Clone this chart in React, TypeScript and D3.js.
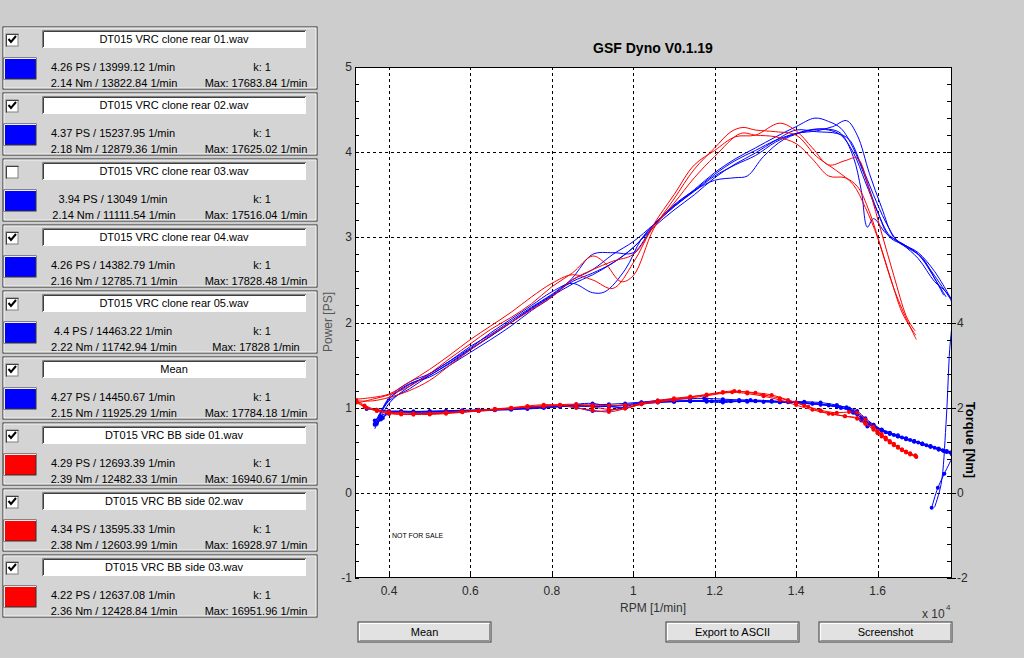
import * as d3 from 'd3';

// ---- run list (left panel) ----
const runNames = [
  'DT015 VRC clone rear 01.wav',
  'DT015 VRC clone rear 02.wav',
  'DT015 VRC clone rear 03.wav',
  'DT015 VRC clone rear 04.wav',
  'DT015 VRC clone rear 05.wav',
  'Mean',
  'DT015 VRC BB side 01.wav',
  'DT015 VRC BB side 02.wav',
  'DT015 VRC BB side 03.wav',
];
const runColors = ['#0000ff', '#0000ff', '#0000ff', '#0000ff', '#0000ff', '#0000ff', '#ff0000', '#ff0000', '#ff0000'];
const runChecked = [true, true, false, true, true, true, true, true, true];
const peakPower = [4.26, 4.37, 3.94, 4.26, 4.4, 4.27, 4.29, 4.34, 4.22];
const peakPowerRpm = [13999.12, 15237.95, 13049, 14382.79, 14463.22, 14450.67, 12693.39, 13595.33, 12637.08];
const peakTorque = [2.14, 2.18, 2.14, 2.16, 2.22, 2.15, 2.39, 2.38, 2.36];
const peakTorqueRpm = [13822.84, 12879.36, 11111.54, 12785.71, 11742.94, 11925.29, 12482.33, 12603.99, 12428.84];
const kFactor = [1, 1, 1, 1, 1, 1, 1, 1, 1];
const maxRpm = [17683.84, 17625.02, 17516.04, 17828.48, 17828, 17784.18, 16940.67, 16928.97, 16951.96];

// ---- power curves [rpm, PS] ----
const powerRear01 = [[3650,0.80],[4000,1.08],[4500,1.22],[5000,1.38],[5500,1.52],[6000,1.68],[6500,1.84],[7000,2.00],[7500,2.16],[8000,2.31],[8500,2.45],[9000,2.56],[9500,2.70],[10000,2.88],[10500,3.12],[11000,3.32],[11500,3.50],[12000,3.70],[12500,3.86],[13000,3.99],[13500,4.14],[14000,4.26],[14500,4.24],[15000,4.22],[15300,4.15],[15600,3.85],[15900,3.50],[16200,3.18],[16500,2.95],[16800,2.86],[17100,2.76],[17400,2.52],[17684,2.30]];
const powerRear02 = [[3700,0.78],[4000,1.05],[4500,1.25],[5000,1.40],[5500,1.55],[6000,1.72],[6500,1.86],[7000,2.02],[7500,2.18],[8000,2.33],[8500,2.50],[9000,2.62],[9500,2.80],[10000,2.95],[10500,3.15],[11000,3.36],[11500,3.55],[12000,3.74],[12500,3.90],[13000,4.02],[13500,4.14],[14000,4.22],[14500,4.25],[14900,4.30],[15238,4.37],[15500,4.20],[15800,3.75],[16100,3.35],[16400,3.00],[16700,2.90],[17000,2.80],[17300,2.60],[17625,2.32]];
const powerRear04 = [[3650,0.75],[4000,1.10],[4500,1.28],[5000,1.36],[5500,1.50],[6000,1.65],[6500,1.80],[7000,1.96],[7500,2.14],[8000,2.30],[8500,2.52],[9000,2.80],[9500,2.82],[10000,2.82],[10500,3.14],[11000,3.38],[11500,3.55],[12000,3.67],[12500,3.70],[12800,3.72],[13200,3.95],[13700,4.15],[14383,4.26],[14800,4.27],[15100,4.22],[15400,3.95],[15600,3.55],[15750,3.12],[15900,3.22],[16200,3.05],[16600,2.92],[17000,2.75],[17400,2.48],[17700,2.35],[17828,2.22],[17760,1.60],[17680,0.80],[17560,0.10],[17400,-0.17]];
const powerRear05 = [[3700,0.82],[4000,1.12],[4500,1.30],[5000,1.40],[5500,1.55],[6000,1.70],[6500,1.88],[7000,2.04],[7500,2.20],[8000,2.36],[8500,2.46],[9000,2.35],[9300,2.36],[9800,2.62],[10200,2.98],[10600,3.20],[11000,3.37],[11500,3.56],[12000,3.76],[12500,3.92],[13000,4.05],[13500,4.18],[14000,4.30],[14463,4.40],[14800,4.36],[15100,4.28],[15400,4.05],[15700,3.70],[16000,3.30],[16300,3.00],[16700,2.90],[17000,2.82],[17400,2.60],[17828,2.26]];
const powerMean = [[3650,0.82],[4000,1.10],[4500,1.27],[5000,1.38],[5500,1.53],[6000,1.69],[6500,1.84],[7000,2.00],[7500,2.17],[8000,2.32],[8500,2.48],[9000,2.58],[9500,2.70],[10000,2.88],[10500,3.14],[11000,3.36],[11500,3.54],[12000,3.72],[12500,3.85],[13000,3.96],[13500,4.12],[14000,4.22],[14451,4.27],[14800,4.26],[15100,4.20],[15400,4.00],[15700,3.65],[16000,3.30],[16300,3.02],[16700,2.90],[17000,2.80],[17400,2.55],[17784,2.28]];
const powerBB01 = [[3200,1.05],[3600,1.10],[4000,1.15],[4500,1.25],[5000,1.40],[5500,1.58],[6000,1.75],[6500,1.92],[7000,2.06],[7500,2.22],[8000,2.42],[8500,2.58],[9000,2.78],[9300,2.70],[9700,2.48],[10000,2.55],[10500,3.10],[11000,3.45],[11500,3.80],[12000,4.05],[12400,4.24],[12693,4.29],[13000,4.26],[13500,4.24],[14000,4.20],[14500,3.95],[15000,3.78],[15400,3.62],[15700,3.35],[16000,3.00],[16300,2.55],[16600,2.12],[16800,1.95],[16941,1.85]];
const powerBB02 = [[3200,1.10],[3600,1.12],[4000,1.16],[4500,1.30],[5000,1.45],[5500,1.62],[6000,1.80],[6500,1.96],[7000,2.12],[7500,2.30],[8000,2.46],[8500,2.56],[9000,2.50],[9500,2.40],[10000,2.70],[10500,3.15],[11000,3.50],[11500,3.85],[12000,4.02],[12500,4.18],[13000,4.20],[13595,4.34],[14000,4.25],[14400,4.05],[14800,3.85],[15200,3.90],[15500,3.93],[15800,3.55],[16100,3.05],[16400,2.55],[16700,2.08],[16850,1.95],[16929,1.90]];
const powerBB03 = [[3200,1.08],[3600,1.08],[4000,1.12],[4500,1.20],[5000,1.32],[5500,1.50],[6000,1.68],[6500,1.85],[7000,2.00],[7500,2.15],[8000,2.30],[8500,2.50],[9000,2.62],[9500,2.72],[10000,2.80],[10500,3.12],[11000,3.40],[11500,3.70],[12000,3.95],[12637,4.22],[13000,4.20],[13500,4.18],[14000,4.10],[14400,3.92],[14800,3.72],[15200,3.70],[15500,3.60],[15800,3.30],[16100,2.85],[16400,2.40],[16700,2.05],[16850,1.90],[16952,1.80]];

// ---- torque curves [rpm, Nm] ----
const torqueRear01 = [[3650,1.62],[3800,1.75],[4000,1.88],[4300,1.90],[4600,1.89],[5000,1.90],[5400,1.91],[5800,1.92],[6200,1.93],[6600,1.95],[7000,1.97],[7400,1.99],[7800,2.01],[8200,2.03],[8600,2.04],[9000,2.02],[9400,2.03],[9800,2.07],[10200,2.11],[10600,2.13],[11000,2.14],[11400,2.15],[11800,2.16],[12200,2.15],[12600,2.15],[13000,2.15],[13400,2.14],[13822,2.14],[14200,2.12],[14600,2.08],[15000,2.02],[15300,1.96],[15500,1.85],[15700,1.68],[15900,1.55],[16100,1.46],[16300,1.38],[16500,1.32],[16700,1.26],[16900,1.20],[17100,1.14],[17300,1.08],[17500,1.02],[17684,0.97]];
const torqueRear02 = [[3450,1.97],[3700,1.95],[4000,1.92],[4300,1.90],[4600,1.91],[5000,1.92],[5400,1.93],[5800,1.94],[6200,1.95],[6600,1.96],[7000,1.98],[7400,2.00],[7800,2.02],[8200,2.03],[8600,2.05],[9000,2.06],[9400,2.08],[9800,2.10],[10200,2.13],[10600,2.15],[11000,2.16],[11400,2.17],[11800,2.17],[12200,2.17],[12879,2.18],[13400,2.16],[13800,2.13],[14200,2.10],[14600,2.07],[15000,2.04],[15238,2.01],[15500,1.92],[15700,1.75],[15900,1.60],[16100,1.47],[16300,1.40],[16500,1.33],[16700,1.27],[16900,1.21],[17100,1.15],[17300,1.09],[17500,1.02],[17625,0.98]];
const torqueRear04 = [[3650,1.60],[3800,1.72],[4000,1.86],[4300,1.88],[4600,1.87],[5000,1.86],[5400,1.88],[5800,1.90],[6200,1.92],[6600,1.94],[7000,1.95],[7400,1.97],[7800,1.99],[8200,2.02],[8600,2.08],[9000,2.10],[9400,2.03],[9800,2.00],[10200,2.08],[10600,2.12],[11000,2.14],[11400,2.15],[11800,2.14],[12200,2.12],[12786,2.16],[13200,2.14],[13600,2.13],[14000,2.12],[14400,2.10],[14800,2.06],[15100,2.00],[15400,1.88],[15600,1.70],[15750,1.56],[15900,1.60],[16100,1.48],[16300,1.40],[16500,1.33],[16700,1.27],[16900,1.21],[17100,1.15],[17300,1.09],[17500,1.03],[17700,0.96],[17828,0.90],[17640,0.45],[17480,0.12],[17330,-0.35]];
const torqueRear05 = [[3700,1.62],[3850,1.76],[4000,1.90],[4300,1.92],[4600,1.91],[5000,1.90],[5400,1.91],[5800,1.92],[6200,1.94],[6600,1.96],[7000,1.98],[7400,2.01],[7800,2.03],[8200,2.04],[8600,2.00],[9000,1.92],[9400,1.93],[9800,2.02],[10200,2.12],[10600,2.17],[11000,2.20],[11400,2.21],[11743,2.22],[12200,2.20],[12600,2.18],[13000,2.16],[13400,2.15],[13800,2.15],[14200,2.14],[14600,2.12],[15000,2.06],[15300,1.98],[15500,1.88],[15700,1.72],[15900,1.58],[16100,1.49],[16300,1.41],[16500,1.35],[16700,1.28],[16900,1.22],[17100,1.16],[17300,1.10],[17500,1.04],[17700,0.98],[17828,0.92]];
const torqueMean = [[3650,1.70],[3800,1.80],[4000,1.89],[4300,1.90],[4600,1.90],[5000,1.90],[5400,1.91],[5800,1.92],[6200,1.94],[6600,1.95],[7000,1.97],[7400,1.99],[7800,2.01],[8200,2.03],[8600,2.04],[9000,2.03],[9400,2.03],[9800,2.05],[10200,2.11],[10600,2.14],[11000,2.15],[11400,2.15],[11925,2.15],[12400,2.15],[12800,2.14],[13200,2.14],[13600,2.13],[14000,2.12],[14400,2.09],[14800,2.05],[15100,2.00],[15400,1.90],[15600,1.76],[15800,1.62],[16000,1.50],[16200,1.42],[16400,1.36],[16600,1.30],[16800,1.24],[17000,1.18],[17200,1.12],[17400,1.06],[17600,1.00],[17784,0.95]];
const torqueBB01 = [[3200,2.18],[3400,2.05],[3700,1.95],[4000,1.90],[4300,1.88],[4600,1.87],[5000,1.87],[5400,1.89],[5800,1.91],[6200,1.93],[6600,1.96],[7000,1.99],[7400,2.02],[7800,2.05],[8200,2.07],[8600,2.08],[9000,2.02],[9400,1.96],[9800,1.98],[10200,2.08],[10600,2.15],[11000,2.20],[11400,2.25],[11800,2.31],[12200,2.37],[12482,2.39],[12800,2.36],[13200,2.30],[13600,2.22],[14000,2.12],[14300,2.02],[14600,1.92],[14900,1.85],[15200,1.80],[15500,1.74],[15700,1.62],[15900,1.50],[16000,1.42],[16100,1.35],[16200,1.28],[16300,1.20],[16400,1.14],[16500,1.08],[16600,1.02],[16700,0.96],[16800,0.92],[16940,0.86]];
const torqueBB02 = [[3200,2.15],[3450,2.00],[3700,1.92],[4000,1.86],[4300,1.84],[4600,1.84],[5000,1.86],[5400,1.88],[5800,1.91],[6200,1.94],[6600,1.97],[7000,2.00],[7400,2.04],[7800,2.07],[8200,2.06],[8600,2.00],[9000,1.94],[9400,1.90],[9800,1.98],[10200,2.10],[10600,2.17],[11000,2.22],[11400,2.26],[11800,2.30],[12200,2.35],[12604,2.38],[13000,2.35],[13400,2.30],[13800,2.18],[14200,2.05],[14600,1.94],[15000,1.88],[15300,1.90],[15500,1.88],[15700,1.72],[15900,1.55],[16000,1.46],[16100,1.38],[16200,1.30],[16300,1.22],[16400,1.15],[16500,1.08],[16600,1.02],[16700,0.97],[16800,0.93],[16929,0.88]];
const torqueBB03 = [[3200,2.12],[3400,2.02],[3700,1.93],[4000,1.88],[4300,1.85],[4600,1.84],[5000,1.84],[5400,1.86],[5800,1.89],[6200,1.92],[6600,1.95],[7000,1.98],[7400,2.01],[7800,2.03],[8200,2.05],[8600,2.07],[9000,2.06],[9400,2.05],[9800,2.06],[10200,2.09],[10600,2.13],[11000,2.18],[11400,2.23],[11800,2.28],[12429,2.36],[12800,2.33],[13200,2.27],[13600,2.18],[14000,2.06],[14400,1.95],[14800,1.86],[15200,1.80],[15500,1.76],[15700,1.63],[15900,1.48],[16000,1.40],[16100,1.32],[16200,1.25],[16300,1.18],[16400,1.12],[16500,1.06],[16600,1.00],[16700,0.95],[16800,0.90],[16952,0.84]];

const plotted = [
  { color: '#0000ff', power: powerRear01, torque: torqueRear01 },
  { color: '#0000ff', power: powerRear02, torque: torqueRear02 },
  { color: '#0000ff', power: powerRear04, torque: torqueRear04 },
  { color: '#0000ff', power: powerRear05, torque: torqueRear05 },
  { color: '#0000ff', power: powerMean, torque: torqueMean },
  { color: '#ff0000', power: powerBB01, torque: torqueBB01 },
  { color: '#ff0000', power: powerBB02, torque: torqueBB02 },
  { color: '#ff0000', power: powerBB03, torque: torqueBB03 },
];

const rightTickLabels = [-2, 0, 2, 4];
const buttonLabels = ['Mean', 'Export to ASCII', 'Screenshot'];

const FONT = '"Liberation Sans", Arial, sans-serif';
const BG = '#cdcdcd';

function RunPanel({ i }: { i: number }) {
  const y0 = 27 + i * 66;
  const fmt = (v: number) => String(v);
  return (
    <g transform={`translate(3,${y0})`} fontFamily={FONT} fontSize={11}>
      <rect x={0} y={0} width={314} height={62} fill="#d4d4d4" stroke="#2a2a2a" />
      <rect x={1} y={1} width={312} height={60} fill="none" stroke="#f4f4f4" />
      {/* checkbox */}
      <rect x={3} y={7} width={12} height={12} fill="#fff" stroke="#808080" />
      <path d="M3.5,19.5 V7.5 H15.5" fill="none" stroke="#404040" />
      {runChecked[i] && (
        <path d="M5.5,12 L8,15 L13,9" fill="none" stroke="#000" strokeWidth={2} />
      )}
      {/* name field */}
      <rect x={39} y={3} width={264} height={18} fill="#fff" />
      <path d="M39.5,21 V3.5 H303" fill="none" stroke="#808080" />
      <path d="M40.5,20 V4.5 H302" fill="none" stroke="#404040" />
      <text x={171} y={16} textAnchor="middle" fill="#000">{runNames[i]}</text>
      {/* colour swatch */}
      <rect x={1} y={31} width={32} height={21} fill={runColors[i]} stroke="#303030" />
      <path d="M1.5,52 V31.5 H33" fill="none" stroke="#f0f0f0" />
      <text x={110} y={44} textAnchor="middle" fill="#000">
        {`${fmt(peakPower[i])} PS / ${fmt(peakPowerRpm[i])} 1/min`}
      </text>
      <text x={111} y={60} textAnchor="middle" fill="#000">
        {`${fmt(peakTorque[i])} Nm / ${fmt(peakTorqueRpm[i])} 1/min`}
      </text>
      <text x={259} y={44} textAnchor="middle" fill="#000">{`k: ${kFactor[i]}`}</text>
      <text x={253} y={60} textAnchor="middle" fill="#000">{`Max: ${fmt(maxRpm[i])} 1/min`}</text>
    </g>
  );
}

function Button({ x0, label }: { x0: number; label: string }) {
  return (
    <g fontFamily={FONT} fontSize={11}>
      <rect x={x0} y={622} width={133} height={20} fill="#e2e2e2" stroke="#404040" />
      <path d={`M${x0 + 1.5},${640.5} V${623.5} H${x0 + 132}`} fill="none" stroke="#fff" />
      <path d={`M${x0 + 1.5},${640.5} H${x0 + 131.5} V${623.5}`} fill="none" stroke="#909090" />
      <text x={x0 + 66.5} y={636} textAnchor="middle" fill="#000">{label}</text>
    </g>
  );
}

export default function App() {
  const left = 355, right = 952, top = 67, bottom = 578;
  const x = d3.scaleLinear().domain([3165, 17828.48]).range([left, right]);
  const yP = d3.scaleLinear().domain([-1, 5]).range([bottom, top]);
  const yT = d3.scaleLinear().domain([-2, 10]).range([bottom, top]);

  const lineP = d3.line<number[]>()
    .x(d => x(d[0]))
    .y(d => yP(d[1]))
    .curve(d3.curveCatmullRom.alpha(0.5));
  const lineT = d3.line<number[]>()
    .x(d => x(d[0]))
    .y(d => yT(d[1]))
    .curve(d3.curveCatmullRom.alpha(0.5));

  const xTicks = x.ticks(7);
  const yMajor = yP.ticks(6);
  const yMinor = d3.range(-1, 5.001, 0.2);
  const tMinor = d3.range(-2, 10.001, 0.4);

  return (
    <svg width={1024} height={658} style={{ position: 'absolute', left: 0, top: 0 }}>
      <rect width={1024} height={658} fill={BG} />

      {runNames.map((_, i) => <RunPanel key={i} i={i} />)}

      <defs>
        <clipPath id="plotClip">
          <rect x={left} y={top} width={right - left} height={bottom - top} />
        </clipPath>
      </defs>

      <rect x={left} y={top} width={right - left} height={bottom - top} fill="#fff" />

      {/* grid */}
      <g stroke="#000" strokeWidth={1} strokeDasharray="3,3">
        {xTicks.map(t => (
          <line key={'gx' + t} x1={Math.round(x(t)) + 0.5} x2={Math.round(x(t)) + 0.5} y1={top} y2={bottom} />
        ))}
        {yMajor.filter(t => t > -1 && t < 5).map(t => (
          <line key={'gy' + t} x1={left} x2={right} y1={Math.round(yP(t)) + 0.5} y2={Math.round(yP(t)) + 0.5} />
        ))}
      </g>

      {/* curves */}
      <g clipPath="url(#plotClip)" fill="none" strokeWidth={1}>
        {plotted.map((s, i) => (
          <g key={i}>
            <path d={lineP(s.power) || ''} stroke={s.color} />
            <path d={lineT(s.torque) || ''} stroke={s.color} />
            {s.torque.map((d, j) => (
              <circle key={j} cx={x(d[0])} cy={yT(d[1])} r={2} fill={s.color} stroke="none" />
            ))}
          </g>
        ))}
      </g>

      <text x={392} y={538} fontFamily={FONT} fontSize={7} fill="#000">NOT FOR SALE</text>

      {/* frame */}
      <rect x={left + 0.5} y={top + 0.5} width={right - left - 1} height={bottom - top - 1} fill="none" stroke="#000" />

      {/* axes ticks */}
      <g stroke="#000">
        {yMinor.map((t, i) => (
          <line key={'ly' + i} x1={left} x2={left + 4} y1={Math.round(yP(t)) + 0.5} y2={Math.round(yP(t)) + 0.5} />
        ))}
        {tMinor.map((t, i) => (
          <line key={'ry' + i} x1={right - 5} x2={right} y1={Math.round(yT(t)) + 0.5} y2={Math.round(yT(t)) + 0.5} />
        ))}
        {rightTickLabels.map(t => (
          <line key={'ro' + t} x1={right} x2={right + 4} y1={Math.round(yT(t)) + 0.5} y2={Math.round(yT(t)) + 0.5} />
        ))}
        {xTicks.map(t => (
          <line key={'bx' + t} x1={Math.round(x(t)) + 0.5} x2={Math.round(x(t)) + 0.5} y1={bottom} y2={bottom - 4} />
        ))}
      </g>
      <g fontFamily={FONT} fontSize={12} fill="#2a2a2a">
        {yMajor.map(t => (
          <text key={'lyl' + t} x={left - 3} y={yP(t) + 4} textAnchor="end">{String(t)}</text>
        ))}
        {rightTickLabels.map(t => (
          <text key={'ryl' + t} x={right + 5} y={yT(t) + 4}>{String(t)}</text>
        ))}
        {xTicks.map(t => (
          <text key={'bxl' + t} x={x(t)} y={bottom + 17} textAnchor="middle">{String(t / 1e4)}</text>
        ))}
      </g>

      {/* titles and labels */}
      <text x={653} y={53} textAnchor="middle" fontFamily={FONT} fontSize={14} fontWeight="bold" fill="#000">
        GSF Dyno V0.1.19
      </text>
      <text x={653} y={612} textAnchor="middle" fontFamily={FONT} fontSize={12} fill="#333">RPM [1/min]</text>
      <text x={922} y={618} fontFamily={FONT} fontSize={12} fill="#333">x 10</text>
      <text x={946} y={610} fontFamily={FONT} fontSize={8} fill="#333">4</text>
      <text transform="translate(332,322) rotate(-90)" textAnchor="middle" fontFamily={FONT} fontSize={12} fill="#555">
        Power [PS]
      </text>
      <text transform="translate(966,440) rotate(90)" textAnchor="middle" fontFamily={FONT} fontSize={13} fontWeight="bold" fill="#000">
        Torque [Nm]
      </text>

      {buttonLabels.map((b, i) => (
        <Button key={b} x0={[358, 666, 819][i]} label={b} />
      ))}
    </svg>
  );
}
